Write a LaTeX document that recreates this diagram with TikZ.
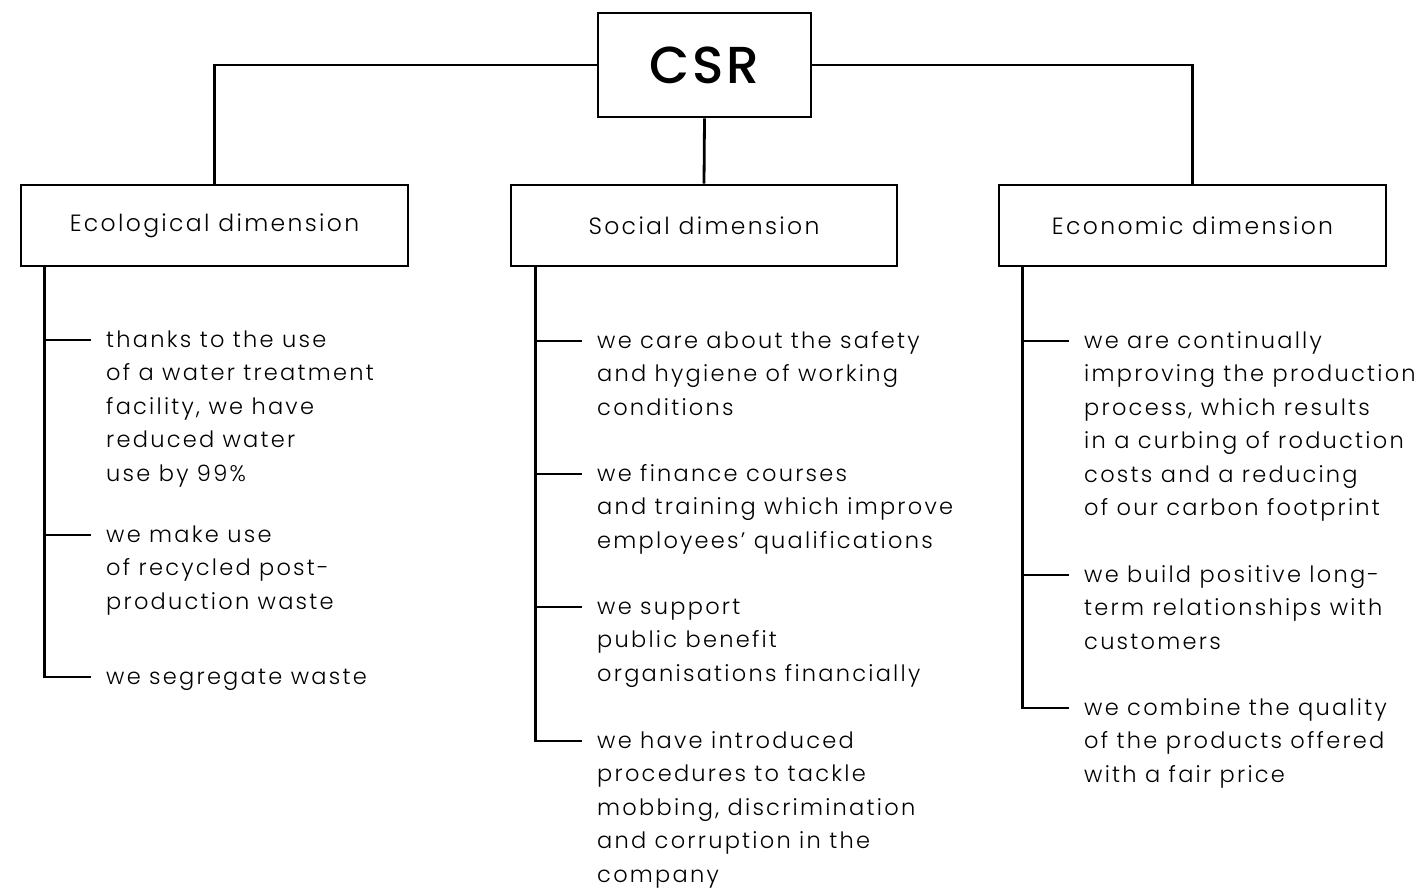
\documentclass[tikz,border=0pt]{standalone}
\usepackage{fontspec}
\setmainfont{Poppins}[UprightFont={* Light}, LetterSpace=10]
\newfontfamily\csrfont{Poppins}[UprightFont={* Medium}, LetterSpace=5]
\begin{document}
\begin{tikzpicture}[x=1pt,y=-1pt]
\useasboundingbox (0,0) rectangle (1419,889);
\tikzset{
  box/.style={draw, line width=2.8pt, inner sep=0pt, minimum height=81pt, minimum width=387pt, font=\fontsize{23.5}{28}\selectfont},
  item/.style={anchor=north west, inner sep=0pt, align=left, font=\fontsize{22.5}{33.4}\selectfont},
  link/.style={line width=2.8pt}
}
\node[box, minimum width=213pt, minimum height=104pt, font=\csrfont\fontsize{52}{54}\selectfont] (csr) at (704.5,65) {CSR};
\node[box] (eco) at (214.5,225.5) {Ecological dimension};
\node[box, minimum width=386pt] (soc) at (704,225.5) {Social dimension};
\node[box] (econ) at (1192.5,225.5) {Economic dimension};

\draw[link] (csr.west) -| (eco.north);
\draw[link] (csr.east) -| (econ.north);
\draw[link] (csr.south) -- (soc.north);

% ecological
\coordinate (es) at ([xshift=25pt]eco.south west);
\coordinate (e1) at (91,340);
\coordinate (e2) at (91,535);
\coordinate (e3) at (91,677);
\draw[link] (es) |- (e3);
\draw[link] (es |- e1) -- (e1);
\draw[link] (es |- e2) -- (e2);
\node[item] (e1t) at ([xshift=15pt,yshift=16pt]e1) {\strut thanks to the use\\of a water treatment\\facility, we have\\reduced water\\use by 99\%};
\node[item] (e2t) at ([xshift=15pt,yshift=16pt]e2) {\strut we make use\\of recycled post-\\production waste};
\node[item] (e3t) at ([xshift=15pt,yshift=16pt]e3) {\strut we segregate waste};

% social
\coordinate (ss) at ([xshift=26pt]soc.south west);
\coordinate (s1) at (582,341);
\coordinate (s2) at (582,474);
\coordinate (s3) at (582,607);
\coordinate (s4) at (582,741);
\draw[link] (ss) |- (s4);
\draw[link] (ss |- s1) -- (s1);
\draw[link] (ss |- s2) -- (s2);
\draw[link] (ss |- s3) -- (s3);
\node[item] (s1t) at ([xshift=15pt,yshift=16pt]s1) {\strut we care about the safety\\and hygiene of working\\conditions};
\node[item] (s2t) at ([xshift=15pt,yshift=16pt]s2) {\strut we finance courses\\and training which improve\\employees’ qualifications};
\node[item] (s3t) at ([xshift=15pt,yshift=16pt]s3) {\strut we support\\public benefit\\organisations financially};
\node[item] (s4t) at ([xshift=15pt,yshift=16pt]s4) {\strut we have introduced\\procedures to tackle\\mobbing, discrimination\\and corruption in the\\company};

% economic
\coordinate (cs) at ([xshift=25pt]econ.south west);
\coordinate (c1) at (1069,341);
\coordinate (c2) at (1069,575);
\coordinate (c3) at (1069,708);
\draw[link] (cs) |- (c3);
\draw[link] (cs |- c1) -- (c1);
\draw[link] (cs |- c2) -- (c2);
\node[item] (c1t) at ([xshift=15pt,yshift=16pt]c1) {\strut we are continually\\improving the production\\process, which results\\in a curbing of roduction\\costs and a reducing\\of our carbon footprint};
\node[item] (c2t) at ([xshift=15pt,yshift=16pt]c2) {\strut we build positive long-\\term relationships with\\customers};
\node[item] (c3t) at ([xshift=15pt,yshift=16pt]c3) {\strut we combine the quality\\of the products offered\\with a fair price};
\end{tikzpicture}
\end{document}
